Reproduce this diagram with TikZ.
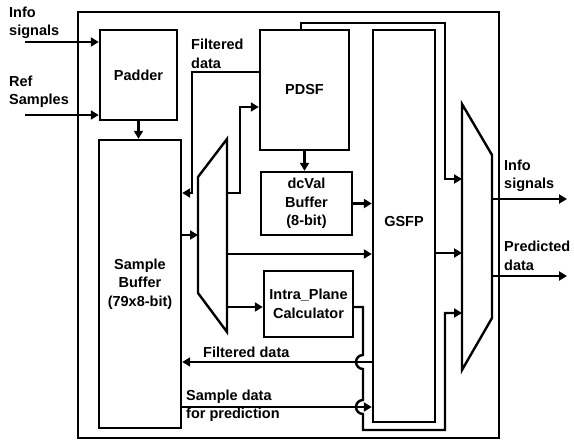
\documentclass[tikz,border=0pt]{standalone}
\usepackage{fontspec}
\setmainfont{Liberation Sans}
\usepackage{tikz}
\usetikzlibrary{calc}
\usetikzlibrary{arrows.meta}
\tikzset{
  ln/.style={line width=2.4pt, line join=miter},
  arr/.style={ln, -{Triangle[length=8pt,width=9pt]}},
  blk/.style={ln, draw, rectangle, align=center, inner sep=0pt, font=\bfseries\fontsize{14.5}{18.5}\selectfont},
  lbl/.style={align=left, anchor=west, inner sep=0pt, font=\bfseries\fontsize{14.5}{18.5}\selectfont}
}
\newcommand{\blk}[6]{\node[blk, minimum width=#4pt, minimum height=#5pt] (#1) at (#2,#3) {#6};}
\begin{document}
\begin{tikzpicture}[x=1pt, y=-1pt]
        \useasboundingbox (0,0) rectangle (574,441);
        % frame
        \draw[line width=2pt] (78,12) rectangle (499,438);
        % blocks
        \blk{padder}{138.5}{75}{77}{90}{Padder}
        \blk{buffer}{140}{284}{82}{288}{Sample\\Buffer\\(79x8-bit)}
        \blk{pdsf}{304.5}{90}{89}{120}{PDSF}
        \blk{dcval}{306.5}{203.5}{91}{63}{dcVal\\Buffer\\(8-bit)}
        \blk{intra}{308.5}{304}{89}{66}{Intra\_Plane\\Calculator}
        \blk{gsfp}{404}{226}{62}{392}{\raisebox{9pt}{GSFP}}
        % muxes
        \draw[ln] (198,177) -- (227,139) -- (227,332) -- (198,293) -- cycle;
        \draw[ln] (462,104) -- (492,155) -- (492,318) -- (462,370) -- cycle;
        \coordinate (mlin) at (198,235);
        \coordinate (mlo1) at (227,193);
        \coordinate (mlo2) at (227,254);
        \coordinate (mlo3) at (227,307);
        \coordinate (mrin1) at (462,179);
        \coordinate (mrin2) at (462,253);
        \coordinate (mrin3) at (462,313);
        \coordinate (mrout1) at (492,199);
        \coordinate (mrout2) at (492,276);
        % inputs
        \coordinate (infoin) at (25,42);
        \coordinate (refin) at (25,115);
        \draw[arr] (infoin) -- (infoin -| padder.west);
        \draw[arr] (refin) -- (refin -| padder.west);
        \node[lbl] (infotxt) at (9,23) {Info\\signals};
        \node[lbl] (reftxt) at (9,92) {Ref\\Samples};
        % inner connections
        \draw[arr] (padder) -- (padder |- buffer.north);
        \draw[arr] (pdsf.west |- 0,72) -| (192,193) -- (buffer.east |- 0,193);
        \node[lbl] (fdtop) at (191,54) {Filtered\\data};
        \draw[arr] (mlin -| buffer.east) -- (mlin);
        \draw[arr] (mlo1) -- (240,193) |- (pdsf.west |- 0,107);
        \draw[arr] (mlo2) -- (mlo2 -| gsfp.west);
        \draw[arr] (mlo3) -- (mlo3 -| intra.west);
        \draw[arr] (pdsf.south) -- (pdsf.south |- dcval.north);
        \draw[arr] (dcval.east) -- (dcval.east -| gsfp.west);
        \draw[arr] ([xshift=-3.5pt]pdsf.north) |- (445,23) |- (mrin1);
        \draw[arr] (mrin2 -| gsfp.east) -- (mrin2);
        \draw[arr] (intra.east |- 0,307) -- (363,307) -- (363,355) arc(90:270:7pt)
                   -- (363,400) arc(90:270:7pt) -- (363,430) -- (445,430) |- (mrin3);
        % bottom buses
        \draw[arr] (gsfp.west |- 0,362) -- (buffer.east |- 0,362);
        \node[lbl] (fdbot) at (203,352) {Filtered data};
        \draw[arr] (buffer.east |- 0,407) -- (gsfp.west |- 0,407);
        \node[lbl] (sdtxt) at (186,406) {Sample data\\for prediction};
        % outputs
        \coordinate (infoout) at (567,199);
        \coordinate (predout) at (567,276);
        \draw[arr] (mrout1) -- (infoout);
        \draw[arr] (mrout2) -- (predout);
        \node[lbl] (infoouttxt) at (504,176) {Info\\signals};
        \node[lbl] (predtxt) at (504,256) {Predicted\\data};
\end{tikzpicture}
\end{document}
